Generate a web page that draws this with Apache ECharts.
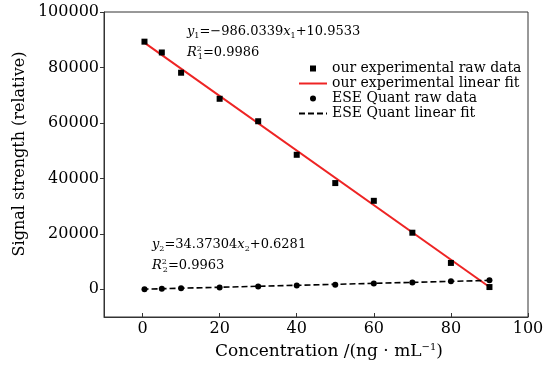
<!DOCTYPE html>
<html>
<head>
<meta charset="utf-8">
<script src="https://cdn.jsdelivr.net/npm/echarts@6/dist/echarts.min.js"></script>
<style>
  html, body { margin: 0; background: #fff; }
  #chart { width: 558px; height: 367px; }
</style>
</head>
<body>
<div id="chart"></div>
<script>
// concentrations (ng/mL)
const concentration = [0.5, 5, 10, 20, 30, 40, 50, 60, 70, 80, 90]
const ourRaw = [89300, 85400, 78100, 68700, 60600, 48500, 38300, 31900, 20400, 9500, 800]
const eseRaw = [0, 150, 350, 650, 1000, 1350, 1600, 2050, 2400, 2900, 3250]

// fit line end points
const ourFitX = [0, 90]
const ourFitY = [89400, 800]
const eseFitX = [0, 90]
const eseFitY = [20, 3200]

const xTicks = [0, 20, 40, 60, 80, 100]
const yTicks = [0, 20000, 40000, 60000, 80000, 100000]

const names = ['our experimental raw data', 'our experimental linear fit', 'ESE Quant raw data', 'ESE Quant linear fit']

const serif = 'DejaVu Serif'
const pair = (xs, ys) => xs.map((x, i) => [x, ys[i]])

const chart = echarts.init(document.getElementById('chart'), null, { renderer: 'canvas' })

const richText = {
  i: { fontStyle: 'italic', fontFamily: serif, fontSize: 13, lineHeight: 16 },
  sb: { fontFamily: serif, fontSize: 8, lineHeight: 8, verticalAlign: 'bottom' },
  sp: { fontFamily: serif, fontSize: 8, lineHeight: 8, verticalAlign: 'top' },
  spz: { fontFamily: serif, fontSize: 8, lineHeight: 8, verticalAlign: 'top', width: 1 }
}

function note(x, y, text) {
  return {
    type: 'text', left: x, top: y, z: 20,
    style: { text: text, rich: richText, fontFamily: serif, fontSize: 13, lineHeight: 16, fill: '#000' }
  }
}

const option = {
  animation: false,
  grid: { left: 104, right: 30, top: 12, bottom: 50, show: true, borderColor: '#333', borderWidth: 1, outerBoundsMode: 'none' },
  xAxis: {
    type: 'value', min: -10, max: 100, interval: 10,
    axisLine: { onZero: false, lineStyle: { color: '#333', width: 1 } },
    axisTick: { inside: true, length: 4, customValues: xTicks, lineStyle: { color: '#333' } },
    axisLabel: { customValues: xTicks, margin: 4, color: '#000', fontFamily: serif, fontSize: 16 },
    splitLine: { show: false }
  },
  yAxis: {
    type: 'value', min: -10000, max: 100000, interval: 10000,
    axisLine: { show: true, onZero: false, lineStyle: { color: '#333', width: 1 } },
    axisTick: { show: true, length: 4, customValues: yTicks, lineStyle: { color: '#333' } },
    axisLabel: { customValues: yTicks, margin: 5, color: '#000', fontFamily: serif, fontSize: 16, formatter: v => String(v) },
    splitLine: { show: false }
  },
  legend: {
    orient: 'vertical', left: 298, top: 61, padding: 0,
    itemWidth: 28, itemHeight: 7.5, itemGap: 0,
    selectedMode: false,
    textStyle: { fontFamily: serif, fontSize: 14, color: '#000', lineHeight: 15 },
    data: [
      { name: names[0] },
      { name: names[1], itemStyle: { opacity: 0 } },
      { name: names[2] },
      { name: names[3], itemStyle: { opacity: 0 } }
    ]
  },
  series: [
    {
      name: names[1], type: 'line', symbol: 'none', z: 3,
      data: pair(ourFitX, ourFitY),
      lineStyle: { color: '#ee2424', width: 2 },
      itemStyle: { color: '#ee2424' }
    },
    {
      name: names[3], type: 'line', symbol: 'none', z: 3,
      data: pair(eseFitX, eseFitY),
      lineStyle: { color: '#000', width: 1.6, type: [6, 3] },
      itemStyle: { color: '#000' }
    },
    {
      name: names[0], type: 'line', symbol: 'rect', symbolSize: 6, z: 4,
      data: pair(concentration, ourRaw),
      lineStyle: { width: 0 },
      itemStyle: { color: '#000' }
    },
    {
      name: names[2], type: 'line', symbol: 'circle', symbolSize: 6, z: 4,
      data: pair(concentration, eseRaw),
      lineStyle: { width: 0 },
      itemStyle: { color: '#000' }
    }
  ],
  graphic: [
    note(187, 24, '{i|y}{sb|1}=−986.0339{i|x}{sb|1}+10.9533'),
    note(187, 45, '{i|R}{spz|2}{sb|1}=0.9986'),
    note(152, 237, '{i|y}{sb|2}=34.37304{i|x}{sb|2}+0.6281'),
    note(152, 258, '{i|R}{spz|2}{sb|2}=0.9963'),
    {
      type: 'text', x: 329, y: 352, z: 20,
      style: {
        text: 'Concentration /(ng · mL{sp|−1})', rich: { sp: { fontFamily: serif, fontSize: 10, lineHeight: 10, verticalAlign: 'top' } },
        fontFamily: serif, fontSize: 17, lineHeight: 20, fill: '#000', align: 'center', verticalAlign: 'middle'
      }
    },
    {
      type: 'text', x: 20, y: 154, rotation: Math.PI / 2, z: 20,
      style: { text: 'Signal strength (relative)', fontFamily: serif, fontSize: 16, fill: '#000', align: 'center', verticalAlign: 'middle' }
    }
  ]
}

chart.setOption(option)
</script>
</body>
</html>
